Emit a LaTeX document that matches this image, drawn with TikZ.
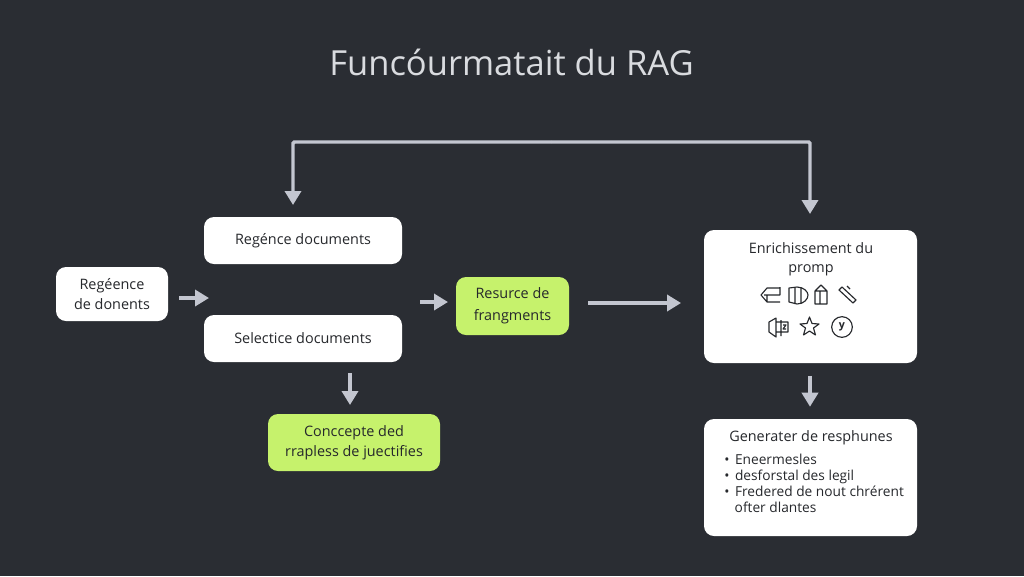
\documentclass[tikz,border=0pt]{standalone}
\usepackage{fontspec}
\setmainfont{Open Sans}
\usetikzlibrary{arrows.meta}
\definecolor{bgdark}{HTML}{2A2D33}
\definecolor{limebox}{HTML}{C6F26C}
\definecolor{arrowgrey}{HTML}{C3C6D0}
\definecolor{titlegrey}{HTML}{D9DBDF}
\definecolor{textdark}{HTML}{26282C}
\tikzset{
	card/.style={draw=none, fill=white, rounded corners=7.5pt, text=textdark, align=center, font=\fontsize{10.8}{15.2}\selectfont, inner sep=0pt},
	limecard/.style={card, fill=limebox},
	flow/.style={draw=arrowgrey, line width=2.6pt, -{Triangle[length=10.5pt,width=12pt]}},
	icon/.style={draw=textdark, line width=0.85pt, line join=round}
}
\begin{document}
\begin{tikzpicture}[x=0.75pt,y=-0.75pt]
	\useasboundingbox (0,0) rectangle (1024,576);
	\fill[bgdark] (0,0) rectangle (1024,576);

	\node[text=titlegrey, font=\fontsize{25.9}{30}\selectfont] (title) at (511.5,62) {Funcóurmatait du RAG};

	\node[card, minimum width=84pt, minimum height=40.5pt] (regence) at (112,294) {Regéence\\de donents};
	\node[card, minimum width=148.5pt, minimum height=35.25pt] (docsa) at (303,240.5) {\raisebox{-0.75pt}{Regénce documents}};
	\node[card, minimum width=148.5pt, minimum height=35.25pt] (docsb) at (303,338.5) {Selectice documents};
	\node[limecard, minimum width=84.75pt, minimum height=43.5pt] (resource) at (512.5,306) {\raisebox{-0.75pt}{Resurce de}\\[1pt]\raisebox{-0.75pt}{frangments}};
	\node[limecard, minimum width=129pt, minimum height=42.75pt] (concept) at (354,442.5) {\raisebox{-0.75pt}{Conccepte ded}\\\raisebox{-0.75pt}{rrapless de juectifies}};
	\node[card, minimum width=159.75pt, minimum height=99.75pt] (enrich) at (810.5,296.5) {};
	\node[card, minimum width=159.75pt, minimum height=87.75pt] (gener) at (810.5,477.5) {};

	\node[text=textdark, align=center, font=\fontsize{10.8}{14.4}\selectfont] (enrichtext) at (811,259) {Enrichissement du\\promp};
	\node[text=textdark, font=\fontsize{10.8}{14.2}\selectfont] (genertext) at (811,438) {Generater de resphunes};
	\node[text=textdark, align=left, anchor=west, inner sep=0pt, font=\fontsize{10.3}{12}\selectfont] (generlist) at (724,483) {•\hspace{1.5pt} Eneermesles\\•\hspace{1.5pt} desforstal des legil\\•\hspace{1.5pt} Fredered de nout chrérent\\\hspace*{0.76em}ofter dlantes};

	% free ends of the arrows
	\coordinate (looptop) at (551,142);
	\coordinate (loopl) at (293,205);
	\coordinate (loopr) at (810,214);
	\coordinate (ina) at (179,298);
	\coordinate (inb) at (209,298);
	\coordinate (midc) at (420,302);
	\coordinate (midd) at (448,302);
	\coordinate (downa) at (350,373);
	\coordinate (downb) at (350,405);

	\draw[flow, rounded corners=1pt] (looptop) -- (293,142) -- (loopl);
	\draw[flow, rounded corners=1pt] (looptop) -- (810,142) -- (loopr);
	\draw[flow] (ina) -- (inb);
	\draw[flow] (midc) -- (midd);
	\draw[flow, shorten <=14.25pt, shorten >=17pt] (resource.east |- 0,303) -- (enrich.west |- 0,303);
	\draw[flow] (downa) -- (downb);
	\draw[flow, shorten <=9.5pt, shorten >=9pt] (enrich.south -| 810,363) -- (gener.north -| 810,419);

	% icons, first row
	\draw[icon] (780,288) -- (767,288) -- (761,295) -- (767,302) -- (780,302) (764,295) -- (780,295) (780,287) -- (780,295) (767,302) -- (767,295);
	\draw[icon] (789,288) -- (797,287) .. controls (804,287) and (808,292) .. (808,295) .. controls (808,299) and (804,304) .. (797,304) -- (789,302) -- cycle (795,287) -- (795,304) (801,288) -- (801,303);
	\draw[icon] (815,304) -- (815,291) -- (821,285) -- (827,291) -- (827,304) -- cycle (815,291) -- (827,291) (820,291) -- (820,304);
	\draw[icon] (839,290) -- (842,287) -- (856,300) -- (853,303) -- cycle (847,286) -- (850,289);
	% icons, second row
	\draw[icon] (769,322) -- (776,318) -- (776,337) -- (769,332) -- cycle (781,320) -- (781,336) (776,322) -- (788,322) -- (788,332) -- (776,332) (783,325) -- (786,325) -- (783,329) -- (786,329);
	\draw[icon] (809.5,317) -- (812,323.5) -- (819,324) -- (813.5,328) -- (815.5,335) -- (809.5,331) -- (803.5,335) -- (805.5,328) -- (800,324) -- (807,323.5) -- cycle;
	\node[icon, circle, minimum size=15.5pt, inner sep=0pt, font=\fontsize{8}{8}\bfseries\selectfont, text=textdark] (yicon) at (842,327) {y};
\end{tikzpicture}
\end{document}
